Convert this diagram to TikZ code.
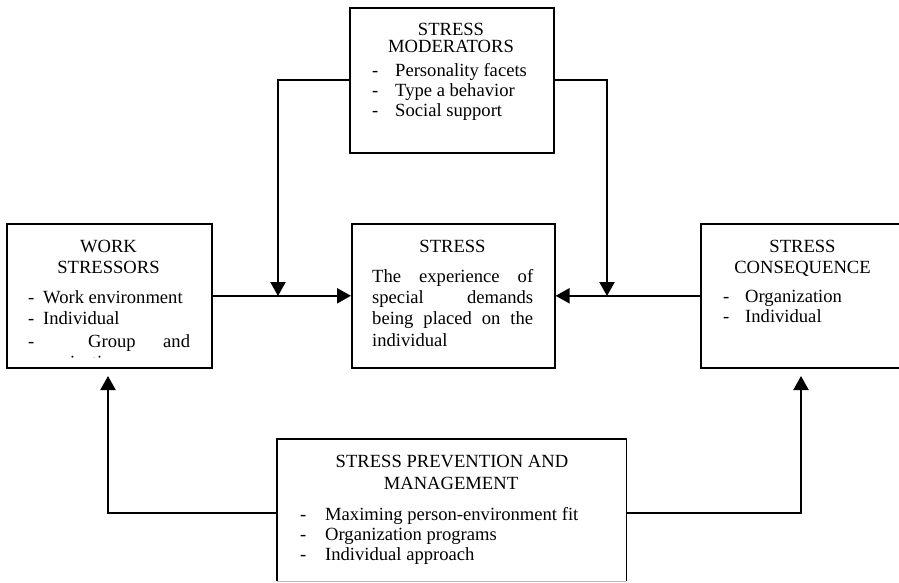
\documentclass[tikz,border=0pt]{standalone}
\usepackage{fontspec}
\setmainfont{Liberation Serif}
\usetikzlibrary{arrows.meta}
\begin{document}
\begin{tikzpicture}[x=1pt,y=-1pt,
  box/.style={draw, line width=1.6pt, inner sep=0pt, anchor=north west},
  txt/.style={inner sep=0pt, font=\fontsize{18.6}{21}\selectfont},
  ctr/.style={txt, anchor=base},
  lft/.style={txt, anchor=base west},
  conn/.style={line width=2.2pt},
  arr/.style={conn, -{Triangle[length=14pt,width=15pt]}},
]
\useasboundingbox (0,0) rectangle (899,583);
\clip (0,0) rectangle (899,583);

% boxes
\node[box, minimum width=204pt, minimum height=145pt] (mod) at (349,7) {};
\node[box, minimum width=205pt, minimum height=144pt] (ws) at (6,223) {};
\node[box, minimum width=203pt, minimum height=144pt] (st) at (351,223) {};
\node[box, minimum width=206pt, minimum height=144pt] (cons) at (700,223) {};
\node[inner sep=0pt, anchor=north west, minimum width=349pt, minimum height=142pt] (prev) at (277,439) {};
\draw[line width=1.6pt] (prev.south west) -- (prev.north west) -- (prev.north east) -- (prev.south east);
\draw[line width=0.8pt, gray!55] (prev.south west) -- (prev.south east);

% moderators text
\node[ctr] (m1) at (451,36) {STRESS};
\node[ctr] (m2) at (451,53) {MODERATORS};
\node[lft] (m3d) at (372,77) {-};
\node[lft] (m3) at (395,77) {Personality facets};
\node[lft] (m4d) at (372,97) {-};
\node[lft] (m4) at (395,97) {Type a behavior};
\node[lft] (m5d) at (372,117) {-};
\node[lft] (m5) at (395,117) {Social support};

% work stressors text
\node[ctr] (w1) at (108.5,252) {WORK};
\node[ctr] (w2) at (108.5,273) {STRESSORS};
\node[lft] (w3d) at (28,303) {-};
\node[lft] (w3) at (43,303) {Work environment};
\node[lft] (w4d) at (28,324.5) {-};
\node[lft] (w4) at (43,324.5) {Individual};
\node[lft] (w5d) at (28,347) {-};
\node[lft] (w5a) at (88,347) {Group};
\node[lft] (w5b) at (163,347) {and};
\begin{scope}
  \clip (6,223) rectangle (211,357);
  \node[lft] (w6) at (28,368) {organization};
\end{scope}

% stress text
\node[ctr] (s1) at (452.5,252) {STRESS};
\node[lft] (s2) at (372,282) {\makebox[161pt][s]{The experience of}};
\node[lft] (s3) at (372,303) {\makebox[161pt][s]{special demands}};
\node[lft] (s4) at (372,324.5) {\makebox[161pt][s]{being placed on the}};
\node[lft] (s5) at (372,346) {individual};

% consequence text
\node[ctr] (c1) at (802.5,252) {STRESS};
\node[ctr] (c2) at (802.5,273) {CONSEQUENCE};
\node[lft] (c3d) at (723,302) {-};
\node[lft] (c3) at (745,302) {Organization};
\node[lft] (c4d) at (723,322) {-};
\node[lft] (c4) at (745,322) {Individual};

% prevention text
\node[ctr] (p1) at (452,467) {STRESS PREVENTION AND};
\node[ctr] (p2) at (451,489) {MANAGEMENT};
\node[lft] (p3d) at (300,520) {-};
\node[lft] (p3) at (325,520) {Maximing person-environment fit};
\node[lft] (p4d) at (300,540) {-};
\node[lft] (p4) at (325,540) {Organization programs};
\node[lft] (p5d) at (300,560) {-};
\node[lft] (p5) at (325,560) {Individual approach};

% connectors
\coordinate (mLd) at (278,296);
\coordinate (mRd) at (607,296);
\coordinate (pL) at (277,513);
\coordinate (pR) at (626,513);
\coordinate (wsT) at (108,376);
\coordinate (csT) at (801,376);

\draw[arr] (mod.west) -| (mLd);
\draw[arr] (mod.east) -| (mRd);
\draw[arr] (ws.east) -- (st.west);
\draw[arr] (cons.west) -- (st.east);
\draw[arr] (pL) -| (wsT);
\draw[arr] (pR) -| (csT);
\end{tikzpicture}
\end{document}
